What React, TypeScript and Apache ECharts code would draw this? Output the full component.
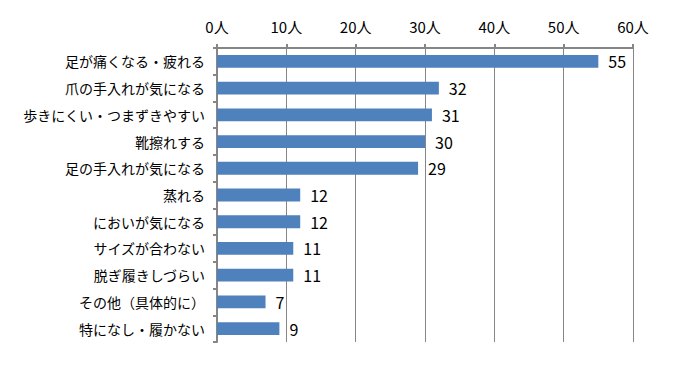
import React, { useEffect, useRef } from "react";
import * as echarts from "echarts";

const categories = [
  "足が痛くなる・疲れる",
  "爪の手入れが気になる",
  "歩きにくい・つまずきやすい",
  "靴擦れする",
  "足の手入れが気になる",
  "蒸れる",
  "においが気になる",
  "サイズが合わない",
  "脱ぎ履きしづらい",
  "その他（具体的に）",
  "特になし・履かない",
];
const values = [55, 32, 31, 30, 29, 12, 12, 11, 11, 7, 9];
const xMin = 0;
const xMax = 60;
const xInterval = 10;

const FONT = "'Noto Sans CJK JP', 'Noto Sans', sans-serif";

export default function App() {
  const ref = useRef<HTMLDivElement>(null);
  useEffect(() => {
    if (!ref.current) return;
    const chart = echarts.init(ref.current, undefined, { renderer: "svg" });
    chart.setOption({
      animation: false,
      backgroundColor: "#ffffff",
      grid: { left: 217, right: 42, top: 48, bottom: 23, containLabel: false },
      xAxis: {
        type: "value",
        position: "top",
        min: xMin,
        max: xMax,
        interval: xInterval,
        axisLine: { show: true, lineStyle: { color: "#868686", width: 2 } },
        axisTick: { show: true, length: 4, lineStyle: { color: "#868686", width: 2 } },
        splitLine: { show: true, lineStyle: { color: "#868686", width: 1 } },
        axisLabel: {
          formatter: (v: number) => `${v}人`,
          color: "#000",
          fontSize: 15,
          fontFamily: FONT,
          margin: 14,
        },
      },
      yAxis: {
        type: "category",
        data: categories,
        inverse: true,
        axisLine: { show: true, lineStyle: { color: "#868686", width: 2 } },
        axisTick: { show: true, length: 4, lineStyle: { color: "#868686", width: 2 } },
        axisLabel: {
          color: "#000",
          fontSize: 14,
          fontFamily: FONT,
          margin: 12,
        },
      },
      series: [
        {
          type: "bar",
          data: values,
          barCategoryGap: "52%",
          itemStyle: { color: "#4F81BD" },
          label: {
            show: true,
            position: "right",
            distance: 10,
            color: "#000",
            fontSize: 16,
            fontFamily: FONT,
          },
        },
      ],
    });
    return () => chart.dispose();
  }, []);
  return <div ref={ref} style={{ width: 675, height: 365, position: "absolute", left: 0, top: 0 }} />;
}
